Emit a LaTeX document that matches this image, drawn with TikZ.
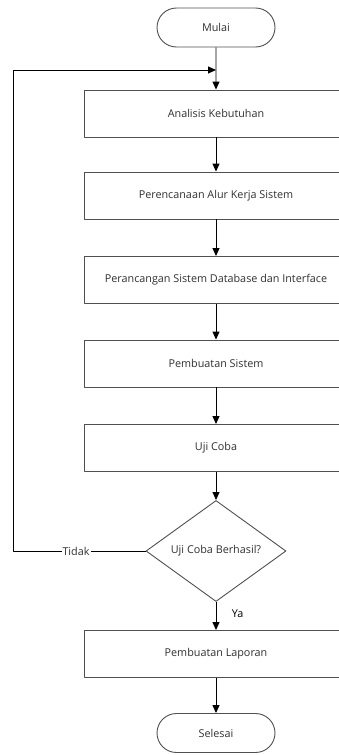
\documentclass[tikz,border=0pt]{standalone}
\usepackage{fontspec}
\setmainfont{Open Sans}
\usepackage{tikz}
\usetikzlibrary{arrows.meta,positioning,shapes.geometric,shapes.misc}
\definecolor{flowink}{HTML}{303030}
\definecolor{flowedge}{HTML}{505050}

\begin{document}
\begin{tikzpicture}[x=1pt,y=-1pt,>={Triangle[width=7pt,length=8pt]},
  line join=round,font=\fontsize{10.8pt}{12pt}\selectfont,text=flowink,
  terminal/.style={rounded rectangle,draw=flowedge,line width=.9pt,
    minimum width=118pt,minimum height=39pt,inner sep=0pt},
  process/.style={rectangle,draw=flowedge,line width=.9pt,
    minimum width=264pt,minimum height=47pt,inner sep=0pt},
  decision/.style={diamond,draw=flowedge,line width=.9pt,
    minimum width=140pt,minimum height=84pt,inner sep=0pt},
  flow/.style={->,line width=.9pt,black},
  tag/.style={fill=white,inner sep=1pt}]
  \path[use as bounding box] (0,0) rectangle (338,755);
  \fill[white] (0,0) rectangle (338,755);
  % langkah-langkah utama
  \node[terminal] (mulai) at (216,27.5) {Mulai};
  \node[process] (analisis) at (216,113.5) {Analisis Kebutuhan};
  \node[process] (alur) at (216,195.5) {Perencanaan Alur Kerja Sistem};
  \node[process] (rancang) at (216,280) {Perancangan Sistem Database dan Interface};
  \node[process] (buat) at (216,363.5) {Pembuatan Sistem};
  \node[process] (uji) at (216,448) {Uji Coba};
  \node[decision] (cek) at (216,551) {Uji Coba Berhasil?};
  \node[process] (laporan) at (216,654) {Pembuatan Laporan};
  \node[terminal] (selesai) at (216,733) {Selesai};
  % titik bantu untuk jalur kembali
  \coordinate (masuk) at (216,70);
  \coordinate (kiri) at (13,551);
  \coordinate (kiriatas) at (13,70);
  % panah alur
  \draw[flow] (mulai) -- (analisis);
  \draw[flow] (analisis) -- (alur);
  \draw[flow] (alur) -- (rancang);
  \draw[flow] (rancang) -- (buat);
  \draw[flow] (buat) -- (uji);
  \draw[flow] (uji) -- (cek);
  \draw[flow] (cek) -- node[right=12pt,pos=.4] (ya) {Ya} (laporan);
  \draw[flow] (laporan) -- (selesai);
  \draw[flow] (cek.west) -- (kiri) -- (kiriatas) -- (masuk);
  \node[tag] (tidak) at (76,551) {Tidak};
\end{tikzpicture}
\end{document}
